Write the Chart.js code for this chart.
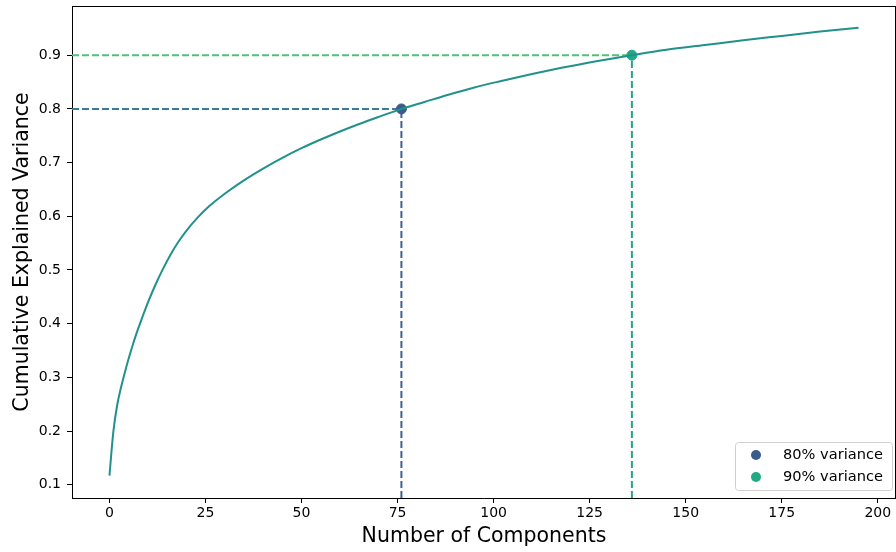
<!DOCTYPE html>
<html>
<head>
<meta charset="utf-8">
<script src="https://cdn.jsdelivr.net/npm/chart.js@4.4.1/dist/chart.umd.min.js"></script>
<style>
  html, body { margin: 0; padding: 0; background: #fff; overflow: hidden; }
  canvas { display: block; }
</style>
</head>
<body>
<canvas id="chart-pca-variance" width="896" height="552"></canvas>
<script>
// number of components vs cumulative explained variance
var components = [0, 1, 2, 3, 4, 5, 6, 7, 8, 10, 12, 14, 16, 18, 20, 23, 26, 30, 35, 40,
    45, 50, 55, 60, 65, 70, 76, 82, 88, 95, 102, 110, 118, 126, 136, 145, 155, 165, 175, 185, 195];
var cumVariance = [0.117, 0.198, 0.248, 0.281, 0.309, 0.335, 0.359, 0.381, 0.401, 0.439,
    0.473, 0.503, 0.530, 0.553, 0.573, 0.598, 0.619, 0.642, 0.667, 0.689,
    0.709, 0.727, 0.743, 0.758, 0.772, 0.785, 0.800, 0.813, 0.826, 0.840,
    0.852, 0.865, 0.877, 0.888, 0.900, 0.910, 0.919, 0.928, 0.936, 0.944, 0.951];

var thresholds = [0.8, 0.9];
var thresholdComponents = [76, 136];
var thresholdLabels = ['80% variance', '90% variance'];

var xTicks = [0, 25, 50, 75, 100, 125, 150, 175, 200];
var yTicks = [0.1, 0.2, 0.3, 0.4, 0.5, 0.6, 0.7, 0.8, 0.9];
var xLimits = [-9.75, 204.75];
var yLimits = [0.0753, 0.9917];

var markerColors = ['#3b5b8c', '#22a884'];
var hlineColors = ['#3a7b96', '#4fc27a'];
var vlineColors = ['#3e6196', '#22a884'];

function dashedLine(points, color) {
    return {
        type: 'line',
        data: points,
        borderColor: color,
        borderWidth: 2,
        borderDash: [7, 3],
        pointRadius: 0,
        fill: false,
        order: 3
    };
}

var datasets = [{
    type: 'line',
    label: 'cumulative',
    data: components.map(function (c, i) { return { x: c, y: cumVariance[i] }; }),
    borderColor: '#21918c',
    borderWidth: 2,
    pointRadius: 0,
    cubicInterpolationMode: 'monotone',
    fill: false,
    order: 1
}];

thresholds.forEach(function (t, i) {
    datasets.push(dashedLine([{ x: xLimits[0], y: t }, { x: thresholdComponents[i], y: t }], hlineColors[i]));
    datasets.push(dashedLine([{ x: thresholdComponents[i], y: yLimits[0] }, { x: thresholdComponents[i], y: t }], vlineColors[i]));
});

var markerSets = thresholds.map(function (t, i) {
    return {
        type: 'scatter',
        label: thresholdLabels[i],
        data: [{ x: thresholdComponents[i], y: t }],
        backgroundColor: markerColors[i],
        borderColor: markerColors[i],
        pointRadius: 5,
        pointHoverRadius: 5,
        order: 2,
        isMarker: true
    };
});
datasets = datasets.concat(markerSets);

// top / right spines and the matplotlib style legend box
var framePlugin = {
    id: 'frame',
    afterDraw: function (chart) {
        var ctx = chart.ctx, a = chart.chartArea;
        ctx.save();
        ctx.strokeStyle = '#000';
        ctx.lineWidth = 1;
        ctx.beginPath();
        ctx.moveTo(a.left, a.top + 0.5);
        ctx.lineTo(a.right, a.top + 0.5);
        ctx.moveTo(a.right - 0.5, a.top);
        ctx.lineTo(a.right - 0.5, a.bottom);
        ctx.stroke();

        var items = chart.data.datasets.filter(function (d) { return d.isMarker; });
        var boxW = 157, rowH = 22, boxH = items.length * rowH + 4;
        var bx = a.right - 4 - boxW, by = a.bottom - 8 - boxH;
        ctx.fillStyle = 'rgba(255,255,255,0.8)';
        ctx.strokeStyle = '#d0d0d0';
        ctx.beginPath();
        ctx.roundRect(bx + 0.5, by + 0.5, boxW, boxH, 3);
        ctx.fill();
        ctx.stroke();
        ctx.font = '14.6px "DejaVu Sans"';
        ctx.textBaseline = 'middle';
        items.forEach(function (d, i) {
            var cy = by + 13 + i * rowH;
            ctx.fillStyle = d.backgroundColor;
            ctx.beginPath();
            ctx.arc(bx + 21, cy, 5, 0, Math.PI * 2);
            ctx.fill();
            ctx.fillStyle = '#000';
            ctx.fillText(d.label, bx + 48, cy);
        });
        ctx.restore();
    }
};

var tickFont = { family: 'DejaVu Sans', size: 14 };
var titleFont = { family: 'DejaVu Sans', size: 20.5 };

new Chart(document.getElementById('chart-pca-variance'), {
    data: { datasets: datasets },
    options: {
        responsive: false,
        animation: false,
        layout: { autoPadding: false, padding: { top: 6, right: 0, left: 0, bottom: 0 } },
        plugins: {
            legend: { display: false },
            tooltip: { enabled: false }
        },
        scales: {
            x: {
                type: 'linear',
                min: xLimits[0],
                max: xLimits[1],
                afterBuildTicks: function (scale) {
                    scale.ticks = xTicks.map(function (v) { return { value: v }; });
                },
                afterFit: function (scale) {
                    scale.height = 54;
                    scale.paddingLeft = 0;
                    scale.paddingRight = 0;
                },
                grid: { drawOnChartArea: false, drawTicks: true, tickLength: 5, color: '#000' },
                border: { display: true, color: '#000', width: 1 },
                ticks: { color: '#000', font: tickFont, padding: 2, maxRotation: 0, autoSkip: false },
                title: {
                    display: true,
                    text: 'Number of Components',
                    color: '#000',
                    font: titleFont,
                    padding: { top: 0, bottom: 3 }
                }
            },
            y: {
                type: 'linear',
                min: yLimits[0],
                max: yLimits[1],
                afterBuildTicks: function (scale) {
                    scale.ticks = yTicks.map(function (v) { return { value: v }; });
                },
                afterFit: function (scale) {
                    scale.width = 72;
                    scale.paddingTop = 0;
                    scale.paddingBottom = 0;
                },
                grid: { drawOnChartArea: false, drawTicks: true, tickLength: 5, color: '#000' },
                border: { display: true, color: '#000', width: 1 },
                ticks: {
                    color: '#000',
                    font: tickFont,
                    padding: 6,
                    callback: function (v) { return v.toFixed(1); }
                },
                title: {
                    display: true,
                    text: 'Cumulative Explained Variance',
                    color: '#000',
                    font: titleFont,
                    padding: { top: 10, bottom: 0 }
                }
            }
        }
    },
    plugins: [framePlugin]
});
</script>
</body>
</html>
